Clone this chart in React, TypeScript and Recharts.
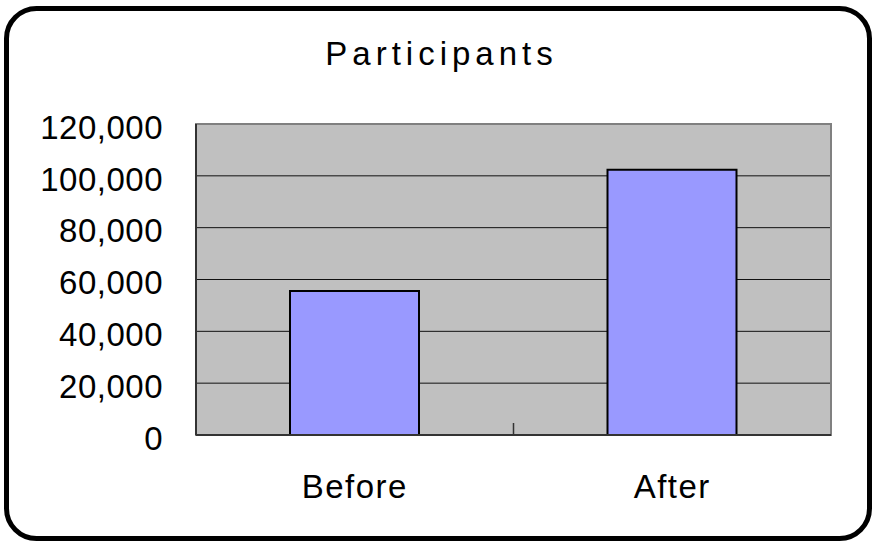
import React from 'react';
import { BarChart, Bar, XAxis, YAxis, CartesianGrid, ReferenceArea } from 'recharts';

const categories = ['Before', 'After'];
const participants = [55600, 102300];
const yTicks = [0, 20000, 40000, 60000, 80000, 100000, 120000];
const title = 'Participants';

const data = categories.map((name, i) => ({ name, participants: participants[i] }));

const FONT = '"Liberation Sans", Arial, sans-serif';
const X_TICK_MARGIN = 40;
const TICK_LEN = 12;

const XTick = (props: any) => {
  const { x, y, payload, index, visibleTicksCount } = props;
  const off = payload && payload.offset ? payload.offset : 0;
  const axisY = y - X_TICK_MARGIN;
  const showBoundary = index < (visibleTicksCount ?? categories.length) - 1;
  return (
    <g>
      <text
        x={x}
        y={y}
        dy="0.71em"
        textAnchor="middle"
        fontSize={33}
        fontFamily={FONT}
        letterSpacing={1.5}
        fill="#000"
      >
        {payload.value}
      </text>
      {showBoundary && (
        <line x1={x + off} x2={x + off} y1={axisY} y2={axisY - TICK_LEN} stroke="#333" strokeWidth={1.5} />
      )}
    </g>
  );
};

export default function App() {
  return (
    <div style={{ position: 'absolute', left: 0, top: 0, width: 872, height: 541, background: '#fff', fontFamily: FONT }}>
      <BarChart
        width={872}
        height={541}
        data={data}
        margin={{ top: 124, right: 41, bottom: 46, left: 96 }}
      >
        <CartesianGrid vertical={false} fill="#C0C0C0" stroke="#111" strokeWidth={1} />
        <ReferenceArea y1={0} y2={120000} fill="none" stroke="#808080" strokeWidth={2} />
        <XAxis
          dataKey="name"
          axisLine={{ stroke: '#333', strokeWidth: 2 }}
          tickLine={false}
          tickSize={0}
          tickMargin={X_TICK_MARGIN}
          height={60}
          interval={0}
          tick={<XTick />}
        />
        <YAxis
          domain={[0, 120000]}
          ticks={yTicks}
          interval={0}
          width={100}
          tickLine={false}
          tickSize={0}
          tickMargin={33}
          axisLine={{ stroke: '#333', strokeWidth: 2 }}
          tick={{ fontSize: 33, fill: '#000', fontFamily: FONT, dy: 3, letterSpacing: 0.5 }}
          tickFormatter={(v: number) => v.toLocaleString('en-US')}
        />
        <Bar
          dataKey="participants"
          fill="#9999FF"
          stroke="#000"
          strokeWidth={2}
          barSize={129}
          isAnimationActive={false}
        />
      </BarChart>
      <svg width={872} height={541} style={{ position: 'absolute', left: 0, top: 0, pointerEvents: 'none' }}>
        <rect x={6.5} y={8.5} width={863} height={530} rx={30} ry={30} fill="none" stroke="#000" strokeWidth={5} />
        <text x={441.5} y={65} textAnchor="middle" fontSize={33} fontFamily={FONT} letterSpacing={5} fill="#000">
          {title}
        </text>
      </svg>
    </div>
  );
}
